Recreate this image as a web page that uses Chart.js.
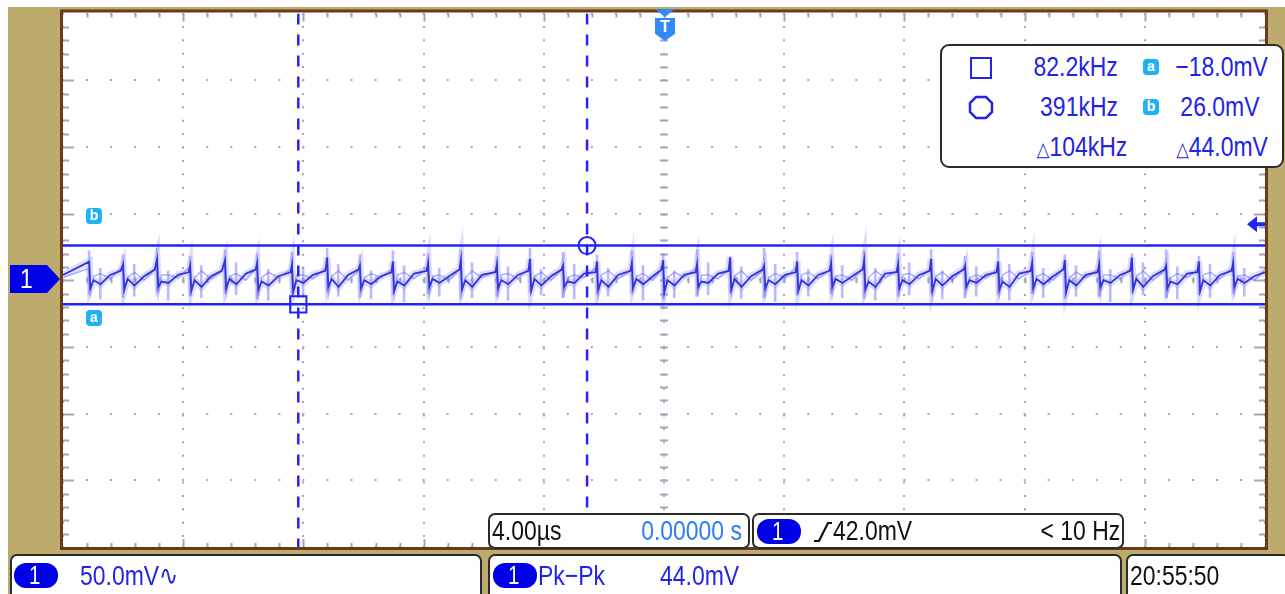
<!DOCTYPE html>
<html>
<head>
<meta charset="utf-8">
<script src="https://cdn.jsdelivr.net/npm/chart.js@4.4.1/dist/chart.umd.min.js"></script>
<style>
html,body{margin:0;padding:0;background:#fff;}
body{width:1285px;height:594px;position:relative;overflow:hidden;font-family:"Liberation Sans",Arial,sans-serif;}
#scope{position:absolute;left:0;top:0;}
.box{position:absolute;background:#fff;border:2px solid #2b2b2b;border-radius:7px;box-sizing:border-box;}
.t{position:absolute;font-size:28px;line-height:28px;white-space:nowrap;transform:scaleX(0.82);transform-origin:left center;}
.r{transform-origin:right center;}
.blue{color:#2323e6;}
.lblue{color:#2b7cff;}
.blk{color:#111;}
.pill{position:absolute;width:44px;height:25px;border-radius:12px;background:#0000e6;color:#fff;font-size:25px;line-height:25px;text-align:center;}
.ico{position:absolute;width:16px;height:16px;border-radius:4px;background:#1fb2f2;color:#fff;font-weight:bold;font-size:14px;line-height:15px;text-align:center;}
.delta{font-family:"DejaVu Sans",sans-serif;font-size:20px;}
</style>
</head>
<body>
<canvas id="scope" width="1285" height="594"></canvas>

<!-- cursor readout -->
<div class="box" style="left:940px;top:44px;width:344px;height:124px;border-radius:9px;"></div>
<div style="position:absolute;left:970px;top:57px;width:22px;height:22px;border:2.5px solid #2424e8;box-sizing:border-box;"></div>
<svg style="position:absolute;left:968px;top:95px;" width="26" height="25"><polygon points="8,2 18,2 24,8 24,17 18,23 8,23 2,17 2,8" fill="none" stroke="#2424e8" stroke-width="2.5"/></svg>
<div class="ico" style="left:1143px;top:59px;">a</div>
<div class="ico" style="left:1143px;top:99px;">b</div>
<div class="t r blue" style="right:167px;top:53px;">82.2kHz</div>
<div class="t r blue" style="right:167px;top:93px;">391kHz</div>
<div class="t r blue" style="right:158px;top:133px;"><span class="delta">△</span>104kHz</div>
<div class="t r blue" style="right:17px;top:53px;">−18.0mV</div>
<div class="t r blue" style="right:26px;top:93px;">26.0mV</div>
<div class="t r blue" style="right:17px;top:133px;"><span class="delta">△</span>44.0mV</div>

<!-- markers in the graticule -->
<div class="ico" style="left:86px;top:208px;">b</div>
<div class="ico" style="left:86px;top:310px;">a</div>
<div style="position:absolute;left:10px;top:265px;width:50px;height:28px;background:#0000e8;clip-path:polygon(0 0,74% 0,100% 50%,74% 100%,0 100%);"></div>
<div class="t" style="left:20px;top:265px;color:#fff;">1</div>
<div style="position:absolute;left:655px;top:9px;width:20px;height:8px;background:#2f8af5;clip-path:polygon(0 0,100% 0,50% 100%);"></div>
<div style="position:absolute;left:655px;top:18px;width:20px;height:23px;background:#2f8af5;clip-path:polygon(0 0,100% 0,100% 68%,50% 100%,0 68%);color:#fff;font-weight:bold;font-size:16px;line-height:18px;text-align:center;">T</div>

<!-- status bar -->
<div class="box" style="left:488px;top:513px;width:262px;height:36px;"></div>
<div class="box" style="left:752px;top:513px;width:372px;height:36px;"></div>
<div class="box" style="left:10px;top:554px;width:472px;height:50px;"></div>
<div class="box" style="left:488px;top:554px;width:634px;height:50px;"></div>
<div class="box" style="left:1126px;top:554px;width:164px;height:50px;"></div>

<div class="t blk" style="left:492px;top:517px;">4.00µs</div>
<div class="t r lblue" style="right:543px;top:517px;">0.00000 s</div>
<div class="pill" style="left:757px;top:519px;"><span class="t" style="position:static;display:inline-block;font-size:25px;line-height:25px;">1</span></div>
<svg style="position:absolute;left:813px;top:521px;" width="20" height="22"><polyline points="1,20 6,20 15,2 19,2" fill="none" stroke="#111" stroke-width="2.2"/></svg>
<div class="t blk" style="left:833px;top:517px;">42.0mV</div>
<div class="t r blk" style="right:165px;top:517px;">&lt; 10 Hz</div>

<div class="pill" style="left:14px;top:563px;"><span class="t" style="position:static;display:inline-block;font-size:25px;line-height:25px;">1</span></div>
<div class="t blue" style="left:80px;top:562px;">50.0mV∿</div>
<div class="pill" style="left:493px;top:563px;"><span class="t" style="position:static;display:inline-block;font-size:25px;line-height:25px;">1</span></div>
<div class="t blue" style="left:538px;top:562px;">Pk−Pk</div>
<div class="t blue" style="left:660px;top:562px;">44.0mV</div>
<div class="t blk" style="left:1130px;top:562px;">20:55:50</div>

<script>
// channel 1 trace, time in µs, voltage in mV
const traceT = [-20.00,
-19.13,-19.09,-18.98,-18.75,-18.43,-18.08,
-18.00,-17.96,-17.85,-17.62,-17.30,-16.95,
-16.87,-16.83,-16.72,-16.49,-16.17,-15.82,
-15.77,-15.73,-15.62,-15.39,-15.07,-14.72,
-14.61,-14.57,-14.46,-14.23,-13.91,-13.59,
-13.54,-13.50,-13.39,-13.16,-12.84,-12.43,
-12.38,-12.34,-12.23,-12.00,-11.68,-11.27,
-11.21,-11.17,-11.06,-10.83,-10.51,-10.17,
-10.12,-10.08,-9.97,-9.74,-9.42,-9.07,
-9.02,-8.98,-8.87,-8.64,-8.32,-7.90,
-7.85,-7.81,-7.70,-7.47,-7.15,-6.81,
-6.76,-6.72,-6.61,-6.38,-6.06,-5.61,
-5.56,-5.52,-5.41,-5.18,-4.86,-4.51,
-4.46,-4.42,-4.31,-4.08,-3.76,-3.41,
-3.36,-3.32,-3.21,-2.98,-2.66,-2.28,
-2.23,-2.19,-2.08,-1.85,-1.53,-1.12,
-1.07,-1.03,-0.92,-0.69,-0.37,-0.08,
-0.03,0.01,0.12,0.35,0.67,1.05,
1.10,1.14,1.25,1.48,1.80,2.15,
2.20,2.24,2.35,2.58,2.90,3.28,
3.33,3.37,3.48,3.71,4.03,4.38,
4.43,4.47,4.58,4.81,5.13,5.51,
5.56,5.60,5.71,5.94,6.26,6.61,
6.66,6.70,6.81,7.04,7.36,7.74,
7.79,7.83,7.94,8.17,8.49,8.84,
8.89,8.93,9.04,9.27,9.59,9.97,
10.02,10.06,10.17,10.40,10.72,11.07,
11.12,11.16,11.27,11.50,11.82,12.20,
12.25,12.29,12.40,12.63,12.95,13.29,
13.34,13.38,13.49,13.72,14.04,14.43,
14.48,14.52,14.63,14.86,15.18,15.52,
15.57,15.61,15.72,15.95,16.27,16.66,
16.71,16.75,16.86,17.09,17.41,17.75,
17.80,17.84,17.95,18.18,18.50,18.89,
18.94,18.98,19.09,19.32,19.64,20.00];

// latest sweep
const traceV = [4,
14,-6,0,-3,4,7,
12,-7,1,-4,3,8,
16,-5,-1,-2,4,6,
11,-8,0,-5,3,7,
15,-6,1,-3,5,8,
13,-7,-1,-4,3,6,
12,-9,0,-2,4,7,
17,-5,1,-5,4,8,
11,-6,0,-3,3,6,
14,-8,-1,-4,5,7,
13,-5,1,-2,3,8,
15,-7,0,-5,4,6,
12,-6,0,-3,4,7,
16,-8,1,-4,3,8,
11,-5,-1,-2,5,6,
14,-7,0,-5,4,7,
13,-6,1,-3,3,8,
15,-9,0,-4,4,6,
12,-5,-1,-2,5,7,
17,-7,1,-5,3,8,
11,-6,0,-3,4,6,
14,-8,0,-4,4,7,
13,-5,1,-2,3,8,
15,-7,-1,-5,5,6,
12,-6,0,-3,4,7,
16,-8,1,-4,3,8,
11,-5,0,-2,4,6,
14,-7,-1,-5,5,7,
13,-6,1,-3,3,8,
15,-9,0,-4,4,6,
12,-5,0,-2,4,7,
17,-7,1,-5,3,8,
11,-6,-1,-3,5,6,
14,-8,0,-4,4,7,
13,-5,1,-2,3,6];

// older sweep kept by persistence
const traceV2 = [2,
9,-10,3,5,1,9,
7,-8,2,6,0,8,
10,-11,4,4,2,9,
8,-9,2,7,1,7,
11,-10,3,5,0,9,
7,-12,2,6,2,8,
9,-8,4,4,1,9,
10,-11,3,7,0,7,
8,-9,2,5,2,8,
11,-10,4,6,1,9,
7,-12,3,4,0,8,
9,-8,2,7,2,7,
10,-11,4,5,1,9,
8,-9,3,6,0,8,
11,-10,2,4,2,9,
7,-12,4,7,1,7,
9,-8,3,5,0,8,
10,-11,2,6,2,9,
8,-9,4,4,1,8,
11,-10,3,7,0,7,
7,-12,2,5,2,9,
9,-8,4,6,1,8,
10,-11,3,4,0,9,
8,-9,2,7,2,7,
11,-10,4,5,1,8,
7,-12,3,6,0,9,
9,-8,2,4,2,8,
10,-11,4,7,1,7,
8,-9,3,5,0,9,
11,-10,2,6,2,8,
7,-12,4,4,1,9,
9,-8,3,7,0,7,
10,-11,2,5,2,8,
8,-9,4,6,1,9,
11,-10,3,4,0,8];

// persistence spikes (switching edges)
const spikeT = [-19.13,-18.76, -18.00,-17.63, -16.87,-16.50, -15.77,-15.40, -14.61,-14.24,
-13.54,-13.17, -12.38,-12.01, -11.21,-10.84, -10.12,-9.75, -9.02,-8.65,
-7.85,-7.48, -6.76,-6.39, -5.56,-5.19, -4.46,-4.09, -3.36,-2.99,
-2.23,-1.86, -1.07,-0.70, -0.03,0.34, 1.10,1.47, 2.20,2.57,
3.33,3.70, 4.43,4.80, 5.56,5.93, 6.66,7.03, 7.79,8.16,
8.89,9.26, 10.02,10.39, 11.12,11.49, 12.25,12.62, 13.34,13.71,
14.48,14.85, 15.57,15.94, 16.71,17.08, 17.80,18.17, 18.94,19.31];
const spikeHi = [22,9, 19,12, 24,7, 18,11, 23,13,
20,8, 21,10, 24,12, 19,7, 22,11,
20,9, 23,13, 18,10, 24,8, 21,12,
19,9, 22,11, 20,7, 23,13, 18,10,
24,12, 21,8, 19,11, 22,9, 20,13,
23,7, 18,10, 24,12, 21,9, 19,11,
22,8, 20,13, 23,10, 18,12, 21,9];
const spikeLo = [-11,-14, -13,-12, -9,-15, -12,-13, -10,-11,
-14,-15, -12,-13, -9,-12, -13,-14, -11,-16,
-10,-12, -14,-13, -12,-15, -9,-11, -13,-14,
-11,-12, -10,-15, -14,-13, -12,-11, -9,-14,
-13,-16, -11,-12, -10,-13, -14,-15, -12,-11,
-9,-14, -13,-12, -11,-15, -10,-13, -14,-12,
-12,-16, -9,-11, -13,-14, -11,-13, -10,-12];

// cursors: time (square, circle) and voltage (a, b)
const cursorT = [-12.17, -2.56];
const cursorV = [-18, 26];
const trigLevel = 42;
const timeRange = [-20, 20];
const voltRange = [-200, 200];

const trace = traceT.map((t, i) => ({x: t, y: traceV[i]}));
const trace2 = traceT.map((t, i) => ({x: t, y: traceV2[i]}));
const spikes = spikeT.map((t, i) => ({x: t, y: [spikeLo[i], spikeHi[i]]}));

const cursorBlue = '#2222ff';

const scopeDecor = {
  id: 'scopeDecor',
  beforeDraw(chart) {
    const {ctx, chartArea: a} = chart;
    ctx.save();
    ctx.fillStyle = '#bdab6d';
    ctx.fillRect(8, 7, chart.width - 8, chart.height - 7);
    ctx.fillStyle = '#fff';
    ctx.fillRect(a.left - 1, a.top - 2, a.right - a.left + 2, a.bottom - a.top + 3);
    ctx.restore();
  },
  beforeDatasetsDraw(chart) {
    const {ctx, chartArea: a, scales: {x, y}} = chart;
    const xc = x.getPixelForValue(0), yc = y.getPixelForValue(0);
    ctx.save();
    ctx.strokeStyle = '#a4a6ba';
    ctx.lineWidth = 2;
    ctx.beginPath();
    for (let i = 1; i < 50; i++) {
      const px = Math.round(x.getPixelForValue(timeRange[0] + i * 0.8)) + 0.5;
      const len = i % 5 === 0 ? 8 : 4;
      ctx.moveTo(px, a.top); ctx.lineTo(px, a.top + len);
      ctx.moveTo(px, a.bottom); ctx.lineTo(px, a.bottom - len);
      ctx.moveTo(px, yc - 3); ctx.lineTo(px, yc + 3);
    }
    for (let i = 1; i < 40; i++) {
      const py = Math.round(y.getPixelForValue(voltRange[0] + i * 10)) + 0.5;
      const len = i % 5 === 0 ? 11 : 6;
      ctx.moveTo(a.left, py); ctx.lineTo(a.left + len, py);
      ctx.moveTo(a.right, py); ctx.lineTo(a.right - len, py);
      ctx.moveTo(xc - 4, py); ctx.lineTo(xc + 4, py);
    }
    ctx.stroke();
    ctx.restore();
  },
  afterDraw(chart) {
    const {ctx, chartArea: a, scales: {y}} = chart;
    ctx.save();
    ctx.strokeStyle = '#6b3b19';
    ctx.lineWidth = 3;
    ctx.strokeRect(a.left - 1.5, a.top - 2.5, a.right - a.left + 3, a.bottom - a.top + 4);
    // trigger level arrow
    const ty = y.getPixelForValue(trigLevel);
    ctx.fillStyle = cursorBlue;
    ctx.beginPath();
    ctx.moveTo(a.right - 18, ty);
    ctx.lineTo(a.right - 8, ty - 8);
    ctx.lineTo(a.right - 8, ty + 8);
    ctx.closePath();
    ctx.fill();
    ctx.fillRect(a.right - 9, ty - 2, 9, 4);
    ctx.restore();
  }
};

new Chart(document.getElementById('scope'), {
  type: 'line',
  data: {
    datasets: [
      {label: 'square', data: [{x: cursorT[0], y: cursorV[0]}], showLine: false,
       pointStyle: 'rect', pointRadius: 11.5, borderColor: cursorBlue, borderWidth: 2, backgroundColor: 'rgba(0,0,0,0)'},
      {label: 'circle', data: [{x: cursorT[1], y: cursorV[1]}], showLine: false,
       pointStyle: 'circle', pointRadius: 8.5, borderColor: cursorBlue, borderWidth: 2, backgroundColor: 'rgba(0,0,0,0)'},
      {label: 'cursor a', data: [{x: timeRange[0], y: cursorV[0]}, {x: timeRange[1], y: cursorV[0]}],
       borderColor: cursorBlue, borderWidth: 2.5, pointRadius: 0},
      {label: 'cursor b', data: [{x: timeRange[0], y: cursorV[1]}, {x: timeRange[1], y: cursorV[1]}],
       borderColor: cursorBlue, borderWidth: 2.5, pointRadius: 0},
      {label: 'cursor 1', data: [{x: cursorT[0], y: voltRange[1]}, {x: cursorT[0], y: voltRange[0]}],
       borderColor: cursorBlue, borderWidth: 2.5, borderDash: [11, 10], pointRadius: 0},
      {label: 'cursor 2', data: [{x: cursorT[1], y: voltRange[1]}, {x: cursorT[1], y: voltRange[0]}],
       borderColor: cursorBlue, borderWidth: 2.5, borderDash: [11, 10], pointRadius: 0},
      {label: 'CH1', data: trace, borderColor: '#3434d4', borderWidth: 1.8, pointRadius: 0},
      {label: 'CH1 older', data: trace2, borderColor: 'rgba(110,110,255,0.55)', borderWidth: 1.5, pointRadius: 0},
      {label: 'CH1 persist', data: trace, borderColor: 'rgba(140,140,255,0.3)', borderWidth: 7, pointRadius: 0},
      {label: 'CH1 spikes', type: 'bar', data: spikes, backgroundColor: 'rgba(130,130,255,0.55)',
       barThickness: 2, grouped: false}
    ]
  },
  options: {
    responsive: false,
    animation: false,
    devicePixelRatio: 1,
    events: [],
    layout: {padding: {left: 63, top: 11, right: 20, bottom: 47}},
    plugins: {legend: {display: false}, tooltip: {enabled: false}},
    scales: {
      x: {type: 'linear', min: timeRange[0], max: timeRange[1], offset: false,
          ticks: {display: false, stepSize: 4},
          grid: {color: '#a4a6ba', lineWidth: 2, drawTicks: false, offset: false},
          border: {display: false, dash: [2, 11.4], dashOffset: 1}},
      y: {type: 'linear', min: voltRange[0], max: voltRange[1],
          ticks: {display: false, stepSize: 50},
          grid: {color: '#a4a6ba', lineWidth: 2, drawTicks: false},
          border: {display: false, dash: [2, 22.04], dashOffset: 1}}
    }
  },
  plugins: [scopeDecor]
});
</script>
</body>
</html>
